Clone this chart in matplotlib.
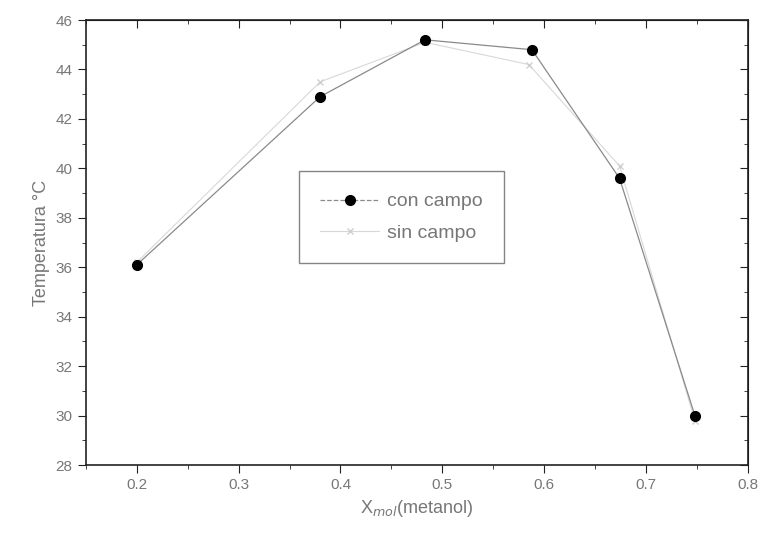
import matplotlib
matplotlib.use('Agg')
import matplotlib.pyplot as plt
from matplotlib.ticker import MultipleLocator

plt.rcParams['font.family'] = ['Liberation Sans', 'DejaVu Sans']

x_con = [0.2, 0.38, 0.483, 0.588, 0.674, 0.748]
t_con = [36.1, 42.9, 45.2, 44.8, 39.6, 30.0]
x_sin = [0.2, 0.38, 0.483, 0.585, 0.674, 0.748]
t_sin = [36.2, 43.5, 45.1, 44.2, 40.1, 29.8]
xticks = [0.2, 0.3, 0.4, 0.5, 0.6, 0.7, 0.8]
xticklabels = ['0.2', '0.3', '0.4', '0.5', '0.6', '0.7', '0.8']
yticks = [28, 30, 32, 34, 36, 38, 40, 42, 44, 46]

fig = plt.figure(figsize=(7.6, 5.42), dpi=100)
ax = fig.add_axes([0.113, 0.142, 0.871, 0.821])

ax.plot(x_sin, t_sin, color='#d8d8d8', lw=0.8, marker='x', ms=5, mec='#cfcfcf', label='sin campo')
ax.plot(x_con, t_con, color='#8a8a8a', lw=0.9, marker='o', ms=7, mfc='black', mec='black', label='con campo')

ax.set_xlim(0.15, 0.8)
ax.set_ylim(28, 46)
ax.set_xticks(xticks)
ax.set_xticklabels(xticklabels)
ax.set_yticks(yticks)
ax.xaxis.set_minor_locator(MultipleLocator(0.05))
ax.yaxis.set_minor_locator(MultipleLocator(1))
ax.tick_params(axis='both', which='both', direction='out', colors='#222222', labelcolor='#777777', labelsize=11)
ax.tick_params(axis='both', which='major', length=6)
ax.tick_params(axis='both', which='minor', length=3)
for sp in ax.spines.values():
    sp.set_linewidth(1.2)
    sp.set_color('#222222')

# top and right ticks point inward
top = ax.secondary_xaxis('top')
top.set_xticks(xticks)
top.xaxis.set_minor_locator(MultipleLocator(0.05))
top.tick_params(which='both', direction='in', labeltop=False, colors='#222222')
top.tick_params(which='major', length=6)
top.tick_params(which='minor', length=3)
right = ax.secondary_yaxis('right')
right.set_yticks(yticks)
right.yaxis.set_minor_locator(MultipleLocator(1))
right.tick_params(which='both', direction='in', labelright=False, colors='#222222')
right.tick_params(which='major', length=6)
right.tick_params(which='minor', length=3)

ax.set_ylabel('Temperatura °C', fontsize=13, color='#777777')
ax.set_xlabel('X$_{mol}$(metanol)', fontsize=13, color='#777777')

handles, labels = ax.get_legend_handles_labels()
leg = ax.legend(handles[::-1], labels[::-1], loc='upper left', bbox_to_anchor=(0.322, 0.66),
                fontsize=14, frameon=True, fancybox=False, edgecolor='#666666',
                borderpad=1.1, borderaxespad=0, handlelength=3.0, handletextpad=0.4,
                labelspacing=0.7)
leg.get_frame().set_linewidth(1.0)
for t in leg.get_texts():
    t.set_color('#777777')
leg.get_lines()[0].set_linestyle('--')

fig.savefig('out.png', dpi=100)
